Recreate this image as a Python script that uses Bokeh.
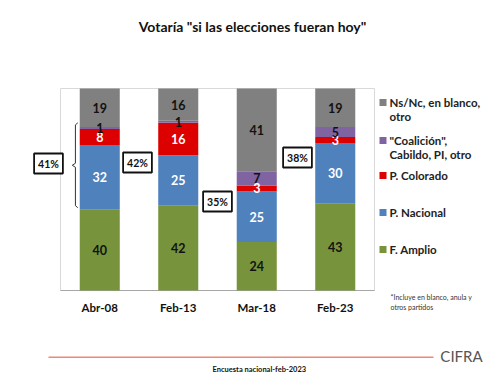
from bokeh.plotting import figure
from bokeh.models import Label, Range1d, ColumnDataSource
from bokeh.core.properties import value
from bokeh.embed import file_html
from bokeh.resources import INLINE

# ---- data ----
periods = ["Abr-08", "Feb-13", "Mar-18", "Feb-23"]
f_amplio = [40, 42, 24, 43]
p_nacional = [32, 25, 25, 30]
p_colorado = [8, 16, 3, 3]
coalicion = [1, 1, 7, 5]
ns_nc = [19, 16, 41, 19]
legend_lines = [["F. Amplio"], ["P. Nacional"], ["P. Colorado"], ["\"Coalición\",", "Cabildo, PI, otro"], ["Ns/Nc, en blanco,", "otro"]]
colors = ["#77933C", "#4F81BD", "#DD0000", "#8064A2", "#808080"]
label_colors = ["#111111", "white", "white", "#111111", "#111111"]
oppo_box = ["41%", "42%", "35%", "38%"]
title_text = "Votaría \"si las elecciones fueran hoy\""
footnote = ["*Incluye en blanco, anula y", "otros partidos"]
source_text = "Encuesta nacional-feb-2023"

FONT = "Lato"
W, H = 500, 375
# plot area in page pixels
L, R, T, B = 60, 374, 88, 290
n = len(periods)
step = (R - L) / n           # pixels per category
ppu = (B - T) / 100.0        # pixels per percentage point
x0_px = L + step / 2         # pixel position of category index 0

def dx(px):
    return (px - x0_px) / step

def dy(py):
    return (B - py) / ppu

xi = list(range(n))
keys = ["fa", "pn", "pc", "co", "ns"]
src = ColumnDataSource(dict(x=xi, fa=f_amplio, pn=p_nacional, pc=p_colorado, co=coalicion, ns=ns_nc))

p = figure(x_range=Range1d(dx(0), dx(W)), y_range=Range1d(dy(H), dy(0)),
           width=W, height=H, title=None, toolbar_location=None, output_backend="svg",
           x_axis_type=None, y_axis_type=None, min_border=0,
           min_border_left=0, min_border_right=0, min_border_top=0, min_border_bottom=0)
p.outline_line_color = None
p.xgrid.visible = False
p.ygrid.visible = False

# plot-area frame
p.quad(left=[-0.5], right=[n - 0.5], bottom=[0], top=[100], fill_color=None, line_color="#D9D9D9", line_width=1)
p.line([-0.5, n - 0.5], [0, 0], line_color="#A6A6A6", line_width=1.2)

p.vbar_stack(keys, x="x", width=0.51, color=colors, source=src, line_width=0)

# value labels inside segments
series = [f_amplio, p_nacional, p_colorado, coalicion, ns_nc]
cum = [0] * n
for s, vals in enumerate(series):
    ys = []
    for i, v in enumerate(vals):
        ys.append(cum[i] + v / 2)
        cum[i] += v
    lsrc = ColumnDataSource(dict(x=xi, y=ys, t=[str(v) for v in vals]))
    p.text(x="x", y="y", text="t", source=lsrc, text_align="center", text_baseline="middle",
           text_font=value(FONT), text_font_style="bold", text_font_size="12.5px",
           text_color=label_colors[s])

# category labels
csrc = ColumnDataSource(dict(x=xi, y=[dy(307)] * n, t=periods))
p.text(x="x", y="y", text="t", source=csrc, text_align="center", text_baseline="middle",
       text_font=value(FONT), text_font_style="bold", text_font_size="11.5px", text_color="#111111")

# curly bracket next to Abr-08 (PN + PC)
lo = f_amplio[0] + 1
hi = f_amplio[0] + p_nacional[0] + p_colorado[0] + 3
mid = (lo + hi) / 2
bx = [-0.28, -0.31, -0.31, -0.35, -0.31, -0.31, -0.28]
by = [hi, hi - 1, mid + 1, mid, mid - 1, lo + 1, lo]
p.line(bx, by, line_color="#333333", line_width=1)

def lab(px, py, text, size, bold=True, color="#111111", align="left", **kw):
    p.add_layout(Label(x=px, y=H - py, x_units="screen", y_units="screen", text=text,
                       text_font=FONT, text_font_size=size, text_font_style="bold" if bold else "normal",
                       text_color=color, text_align=align, text_baseline="middle", **kw))

def box(x0, x1, y0, y1, color):
    p.quad(left=[dx(x0)], right=[dx(x1)], top=[dy(y0)], bottom=[dy(y1)], fill_color=color, line_color=None)

# title
lab(252, 26, title_text, "14px", align="center")

# boxes with opposition totals
box_pos = [(48, 163), (137, 162), (217, 201), (297, 157)]
for (bxp, byp), t in zip(box_pos, oppo_box):
    lab(bxp, byp, t, "10.5px", align="center", border_line_color="#111111", border_line_width=1.8,
        background_fill_color="white", padding=4)

# legend (top to bottom: reverse stacking order)
leg_y = [249, 212, 175, 140, 102]
for s in range(5):
    y0 = leg_y[s]
    box(379, 386, y0 - 3.5, y0 + 3.5, colors[s])
    for j, line in enumerate(legend_lines[s]):
        lab(389, y0 + j * 14, line, "11.5px", color="#222222")

# footnote
lab(390, 296, footnote[0], "7px", bold=False, color="#333333")
lab(390, 306, footnote[1], "7px", bold=False, color="#333333")

# footer
box(48, 433, 356, 357.5, "#EE8877")
lab(212, 369, source_text, "7.5px", color="#111111")
lab(461, 355, "CIFRA", "15px", bold=False, color="#555555", align="center")

open("out.html", "w").write(file_html(p, INLINE))
